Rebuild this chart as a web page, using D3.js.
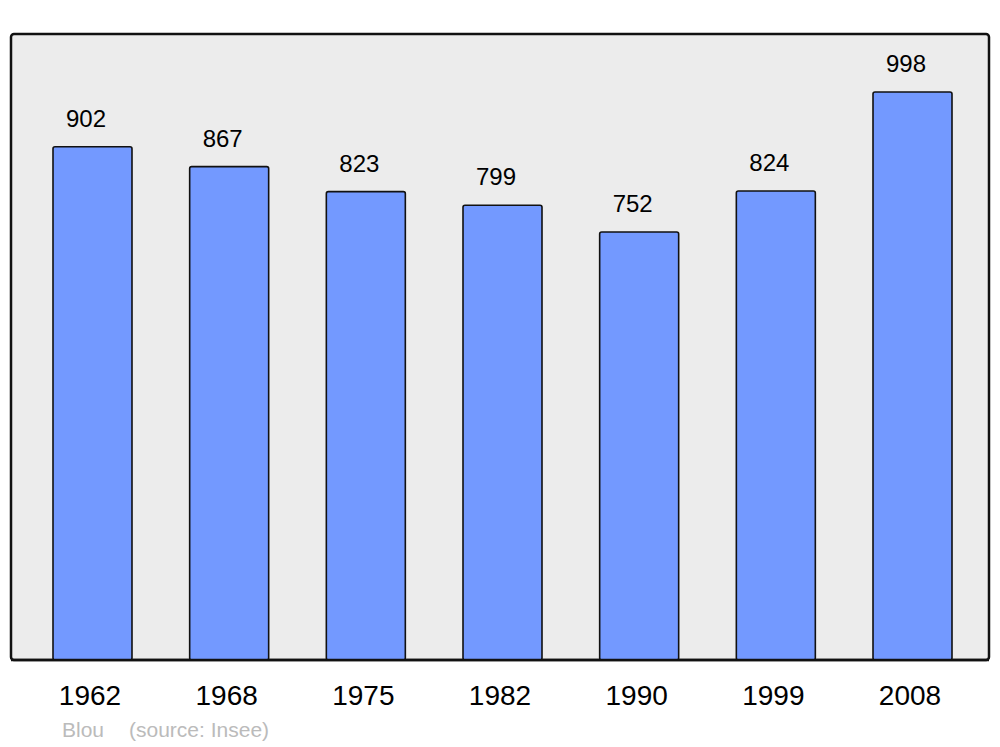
<!DOCTYPE html>
<html>
<head>
<meta charset="utf-8">
<script src="https://cdn.jsdelivr.net/npm/d3@7"></script>
<style>
  body { margin: 0; background: #fff; }
  text { font-family: "Liberation Sans", Arial, sans-serif; }
</style>
</head>
<body>
<div id="chart"></div>
<script>
"use strict";

var years = ["1962", "1968", "1975", "1982", "1990", "1999", "2008"];
var population = [902, 867, 823, 799, 752, 824, 998];
var commune = "Blou";
var source = "(source: Insee)";

var width = 1000,
    height = 747;

var svg = d3.select("#chart")
            .append("svg")
            .attr("width", width)
            .attr("height", height)

// panel
var panelLeft = 11, panelRight = 989, panelTop = 34, panelBottom = 660;

svg.append("rect")
    .attr("x", panelLeft)
    .attr("y", panelTop)
    .attr("width", panelRight - panelLeft)
    .attr("height", panelBottom - panelTop)
    .attr("rx", 3)
    .attr("fill", "#ececec")
    .attr("stroke", "#111")
    .attr("stroke-width", 2.5)

var x = d3.scaleBand()
    .domain(years)
    .range([12, 993])
    .paddingInner(0.422)
    .paddingOuter(0.3)

var y = d3.scaleLinear()
    .domain([0, 1100])
    .range([panelBottom, panelTop])

var data = years.map(function(d, i) { return {year: d, value: population[i]} })

svg.selectAll(".bar")
    .data(data)
    .enter()
    .append("rect")
    .attr("class", "bar")
    .attr("x", function(d) { return x(d.year) })
    .attr("y", function(d) { return y(d.value) })
    .attr("width", x.bandwidth())
    .attr("height", function(d) { return panelBottom - y(d.value) })
    .attr("rx", 2)
    .attr("fill", "#7399ff")
    .attr("stroke", "#111")
    .attr("stroke-width", 1.6)

// redraw panel bottom edge over bars
svg.append("line")
    .attr("x1", panelLeft).attr("x2", panelRight)
    .attr("y1", panelBottom).attr("y2", panelBottom)
    .attr("stroke", "#111")
    .attr("stroke-width", 2.5)

svg.selectAll(".value")
    .data(data)
    .enter()
    .append("text")
    .attr("class", "value")
    .attr("x", function(d) { return x(d.year) + x.bandwidth() / 2 - 6.5 })
    .attr("y", function(d) { return y(d.value) - 20 })
    .attr("text-anchor", "middle")
    .attr("font-size", 24)
    .attr("fill", "#000")
    .text(function(d) { return d.value })

svg.selectAll(".year")
    .data(data)
    .enter()
    .append("text")
    .attr("class", "year")
    .attr("x", function(d) { return x(d.year) + x.bandwidth() / 2 - 2.5 })
    .attr("y", 705)
    .attr("text-anchor", "middle")
    .attr("font-size", 28)
    .attr("fill", "#000")
    .text(function(d) { return d.year })

svg.append("text")
    .attr("x", 62)
    .attr("y", 737)
    .attr("font-size", 21)
    .attr("fill", "#bbb")
    .text(commune)

svg.append("text")
    .attr("x", 129)
    .attr("y", 737)
    .attr("font-size", 21)
    .attr("fill", "#bbb")
    .text(source)
</script>
</body>
</html>
